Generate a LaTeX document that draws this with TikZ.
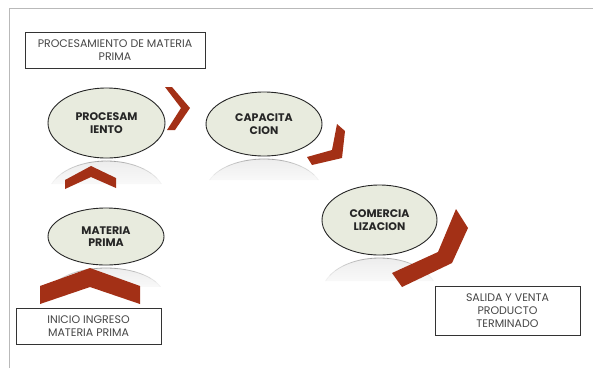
\documentclass[tikz,border=0pt]{standalone}
\usepackage{fontspec}
\setmainfont{Poppins}
\usetikzlibrary{shapes.geometric,calc}
\definecolor{stagefill}{RGB}{232,235,222}
\definecolor{chevronred}{RGB}{163,48,22}
\definecolor{notetext}{RGB}{70,70,70}
\begin{document}
\begin{tikzpicture}[x=1pt,y=-1pt,
        stage/.style={ellipse,draw=black!85,line width=0.9pt,fill=stagefill,inner sep=0pt,
            align=center,text=black!85,font=\fontsize{11}{12.5}\selectfont\bfseries},
        note/.style={rectangle,draw=black!80,line width=0.8pt,fill=white,inner sep=0pt,
            align=center,text=notetext,font=\fontsize{11}{13}\selectfont},
        chevron/.style={fill=chevronred}]
                \useasboundingbox (0,0) rectangle (593,368);
                \draw[gray!55,line width=1pt] (9,368) -- (9,8) -- (593,8);
                \coordinate (procpos) at (106.5,123);
                \coordinate (capapos) at (264,124);
                \coordinate (comerpos) at (379.5,220);
                \coordinate (matpos) at (106,236.5);
                \foreach \n/\rx/\ry in {proc/58.5/35,capa/58/32,comer/57.5/35,mat/58/28.5}{
                    \coordinate (refl) at ($(\n pos)+(0,2*\ry+3)$);
                    \shade[top color=gray!16,bottom color=white] (refl) ++(200:{\rx} and {\ry})
                        arc[start angle=200,end angle=340,x radius=\rx,y radius=\ry] -- cycle;
                    \foreach \a in {200,210,...,330}{
                        \pgfmathsetmacro\op{max(0,1-abs(\a+5-270)/72)}
                        \draw[gray!75,line width=0.8pt,draw opacity=\op] (refl) ++(\a:{\rx} and {\ry})
                            arc[start angle=\a,end angle=\a+10,x radius=\rx,y radius=\ry];
                    }
                }
                \node[stage,minimum width=117,minimum height=70] (proc) at (procpos) {PROCESAM\\IENTO};
                \node[stage,minimum width=116,minimum height=64] (capa) at (capapos) {CAPACITA\\CION};
                \node[stage,minimum width=115,minimum height=70] (comer) at (comerpos) {COMERCIA\\LIZACION};
                \node[stage,minimum width=116,minimum height=57] (mat) at (matpos) {MATERIA\\PRIMA};
                \node[note,minimum width=180,minimum height=36] (top) at (115,50) {PROCESAMIENTO DE MATERIA\\PRIMA};
                \node[note,minimum width=145,minimum height=36] (inicio) at (88.5,326) {INICIO INGRESO\\MATERIA PRIMA};
                \node[note,minimum width=145,minimum height=49] (salida) at (507.5,310.5) {SALIDA Y VENTA\\PRODUCTO\\TERMINADO};
                \fill[chevron] (165,87) -- (172,87) -- (190,108) -- (175,130) -- (167,130) -- (181,108) -- cycle;
                \fill[chevron] (65,189) -- (65,180) -- (91,166) -- (116,178) -- (116,188) -- (91,177) -- cycle;
                \fill[chevron] (40,304) -- (40,286) -- (90,268) -- (140,286) -- (140,304) -- (90,287) -- cycle;
                \fill[chevron] (337,124) -- (345,131) -- (342,158) -- (312,165) -- (307,157) -- (332,150) -- cycle;
                \fill[chevron] (456,209) -- (468,228) -- (452,263) -- (402,287) -- (392,273) -- (438,252) -- cycle;
            \end{tikzpicture}
\end{document}
